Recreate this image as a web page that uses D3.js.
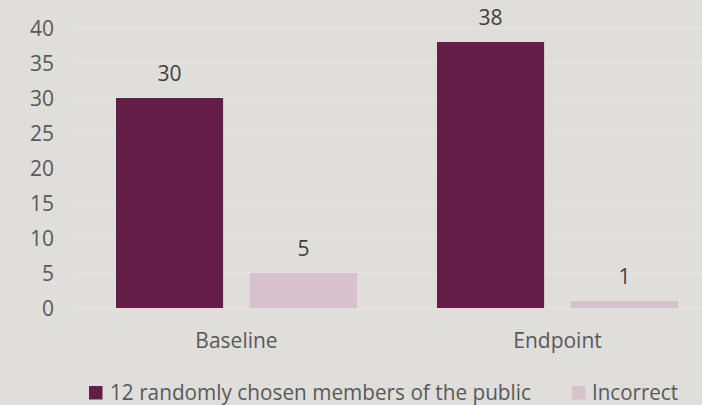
<!DOCTYPE html>
<html>
<head>
<meta charset="utf-8">
<script src="https://cdn.jsdelivr.net/npm/d3@7/dist/d3.min.js"></script>
<style>
  html, body { margin: 0; padding: 0; background: #dfdedb; }
  svg { display: block; }
  text { font-family: "Open Sans", "Noto Sans", sans-serif; }
</style>
</head>
<body>
<svg id="chart" width="702" height="405"></svg>
<script>
// Chart data
const categories = ["Baseline", "Endpoint"];
const seriesNames = ["12 randomly chosen members of the public", "Incorrect"];
const publicValues = [30, 38];
const incorrectValues = [5, 1];
const yTicks = [0, 5, 10, 15, 20, 25, 30, 35, 40];

const colors = ["#641d46", "#d6c1cd"];
const textColor = "#595959";
const FS = 21;

const svg = d3.select("#chart");
const W = 702, H = 405;
const plot = { left: 76, right: 718, top: 28, bottom: 308 };

svg.append("rect").attr("width", W).attr("height", H).attr("fill", "#dfdedb");

const x0 = d3.scaleBand().domain(categories).range([plot.left, plot.right]);
const x1 = d3.scaleBand().domain(seriesNames).range([40, x0.bandwidth() - 40]).paddingInner(0.2);
const y = d3.scaleLinear().domain([0, 40]).range([plot.bottom, plot.top]);

// Horizontal gridlines
svg.append("g")
  .selectAll("line")
  .data(yTicks)
  .join("line")
  .attr("x1", plot.left)
  .attr("x2", W)
  .attr("y1", d => y(d))
  .attr("y2", d => y(d))
  .attr("stroke", "#e6e5e3")
  .attr("stroke-width", 1.2);

// Y axis tick labels
const yAxis = d3.axisLeft(y).tickValues(yTicks).tickSize(0).tickPadding(0);
const gy = svg.append("g").attr("transform", "translate(54,0)").call(yAxis);
gy.select(".domain").remove();
gy.selectAll("text")
  .attr("font-size", FS)
  .attr("dy", "0.36em")
  .style("font-family", '"Open Sans", sans-serif')
  .attr("fill", textColor);

// Grouped bars
const rows = categories.map((c, i) => ({
  cat: c,
  vals: [
    { name: seriesNames[0], v: publicValues[i], color: colors[0] },
    { name: seriesNames[1], v: incorrectValues[i], color: colors[1] }
  ]
}));

const groups = svg.append("g")
  .selectAll("g")
  .data(rows)
  .join("g")
  .attr("transform", d => `translate(${x0(d.cat)},0)`);

groups.selectAll("rect")
  .data(d => d.vals)
  .join("rect")
  .attr("x", d => x1(d.name))
  .attr("width", x1.bandwidth())
  .attr("y", d => y(d.v))
  .attr("height", d => y(0) - y(d.v))
  .attr("fill", d => d.color);

// Value labels above bars
groups.selectAll("text.val")
  .data(d => d.vals)
  .join("text")
  .attr("class", "val")
  .attr("x", d => x1(d.name) + x1.bandwidth() / 2)
  .attr("y", d => y(d.v) - 17)
  .attr("text-anchor", "middle")
  .attr("font-size", FS)
  .attr("fill", "#404040")
  .text(d => d.v);

// Category labels
const xAxis = d3.axisBottom(x0).tickSize(0).tickPadding(0);
const gx = svg.append("g").attr("transform", "translate(0,348)").call(xAxis);
gx.select(".domain").remove();
gx.selectAll("text")
  .attr("font-size", FS)
  .attr("dy", 0)
  .style("font-family", '"Open Sans", sans-serif')
  .attr("fill", textColor);

// Legend
const legendItems = [
  { name: seriesNames[0], color: colors[0], x: 89, w: 421 },
  { name: seriesNames[1], color: colors[1], x: 572, w: 86 }
];
const lg = svg.append("g").selectAll("g").data(legendItems).join("g")
  .attr("transform", d => `translate(${d.x},386)`);
lg.append("rect").attr("width", 13.5).attr("height", 13.5).attr("fill", d => d.color);
lg.append("text")
  .attr("x", d => d.x === 89 ? 21 : 20)
  .attr("y", 14)
  .attr("font-size", FS)
  .attr("fill", textColor)
  .attr("textLength", d => d.w)
  .attr("lengthAdjust", "spacingAndGlyphs")
  .text(d => d.name);
</script>
</body>
</html>
